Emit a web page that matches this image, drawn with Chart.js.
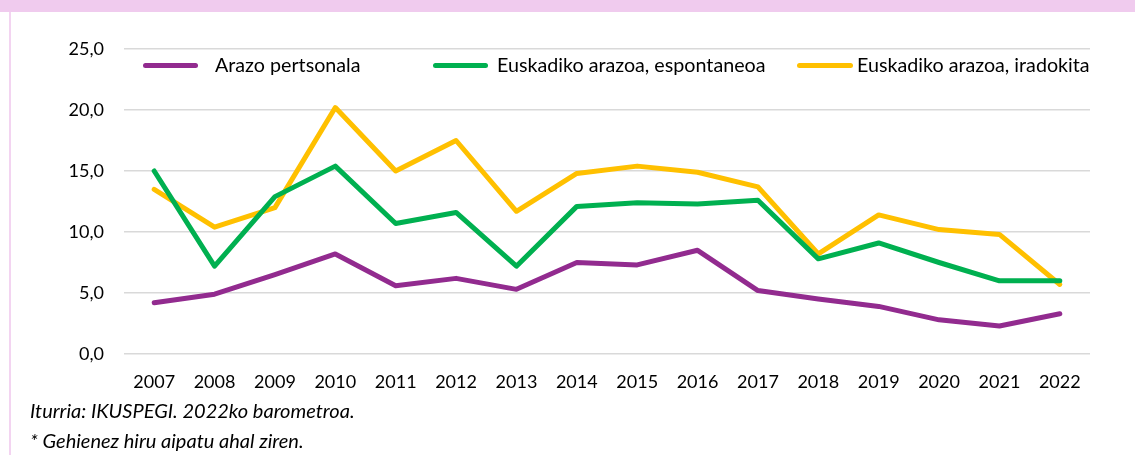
<!DOCTYPE html>
<html>
<head>
<meta charset="utf-8">
<script src="https://cdn.jsdelivr.net/npm/chart.js@4.4.1/dist/chart.umd.min.js"></script>
<style>
  html, body { margin: 0; padding: 0; background: #ffffff; }
  #wrap { position: relative; width: 1135px; height: 455px; overflow: hidden; background: #fff; font-family: Lato, "Open Sans", sans-serif; }
  #band { position: absolute; left: 0; top: 0; width: 1135px; height: 12px; background: #F0CBEE; }
  #lborder { position: absolute; left: 9px; top: 12px; width: 2px; height: 443px; background: #F3D4F1; }
  canvas { position: absolute; left: 0; top: 0; }
  .lg-line { position: absolute; height: 5px; border-radius: 3px; }
  .lg-text { position: absolute; font-size: 19.7px; color: #000; line-height: 22px; white-space: nowrap; }
  .note { position: absolute; left: 30px; font-size: 20px; font-style: italic; color: #000; white-space: nowrap; line-height: 22px; }
</style>
</head>
<body>
<div id="wrap">
  <div id="band"></div>
  <div id="lborder"></div>
  <canvas id="c" width="1135" height="455"></canvas>
  <div id="legend"></div>
  <div class="note" style="top:399px;">Iturria: IKUSPEGI. 2022ko barometroa.</div>
  <div class="note" style="top:429px;">* Gehienez hiru aipatu ahal ziren.</div>
</div>
<script>
const years = ["2007","2008","2009","2010","2011","2012","2013","2014","2015","2016","2017","2018","2019","2020","2021","2022"];
const arazoPertsonala = [4.2, 4.9, 6.5, 8.2, 5.6, 6.2, 5.3, 7.5, 7.3, 8.5, 5.2, 4.5, 3.9, 2.8, 2.3, 3.3];
const euskadikoEspontaneoa = [15.0, 7.2, 12.9, 15.4, 10.7, 11.6, 7.2, 12.1, 12.4, 12.3, 12.6, 7.8, 9.1, 7.5, 6.0, 6.0];
const euskadikoIradokita = [13.5, 10.4, 12.0, 20.2, 15.0, 17.5, 11.7, 14.8, 15.4, 14.9, 13.7, 8.2, 11.4, 10.2, 9.8, 5.7];
const seriesNames = ["Arazo pertsonala", "Euskadiko arazoa, espontaneoa", "Euskadiko arazoa, iradokita"];
const yTicks = [0, 5, 10, 15, 20, 25];

const colors = ["#922B8F", "#00B050", "#FFC000"];

// HTML legend
const legendPos = [
  { lineL: 143, lineW: 55, textL: 215 },
  { lineL: 433, lineW: 55, textL: 497 },
  { lineL: 797, lineW: 56, textL: 857 }
];
const lg = document.getElementById('legend');
seriesNames.forEach((n, i) => {
  const l = document.createElement('div');
  l.className = 'lg-line';
  l.style.left = legendPos[i].lineL + 'px';
  l.style.width = legendPos[i].lineW + 'px';
  l.style.top = '63px';
  l.style.background = colors[i];
  lg.appendChild(l);
  const t = document.createElement('div');
  t.className = 'lg-text';
  t.style.left = legendPos[i].textL + 'px';
  t.style.top = '54px';
  t.textContent = n;
  lg.appendChild(t);
});

const mk = (label, data, color) => ({
  label, data,
  borderColor: color, backgroundColor: color,
  borderWidth: 5, pointRadius: 0, tension: 0,
  borderCapStyle: 'round', borderJoinStyle: 'round', fill: false
});

new Chart(document.getElementById('c'), {
  type: 'line',
  data: {
    labels: years,
    datasets: [
      mk(seriesNames[0], arazoPertsonala, colors[0]),
      mk(seriesNames[1], euskadikoEspontaneoa, colors[1]),
      mk(seriesNames[2], euskadikoIradokita, colors[2])
    ]
  },
  options: {
    responsive: false,
    animation: false,
    devicePixelRatio: 1,
    layout: { padding: { top: 49, right: 45, bottom: 0, left: 0 } },
    plugins: { legend: { display: false }, tooltip: { enabled: false } },
    scales: {
      x: {
        offset: true,
        grid: { display: false, drawTicks: false },
        border: { display: false },
        ticks: { color: '#000', font: { family: 'Lato', size: 18 }, padding: 17, maxRotation: 0, autoSkip: false },
        afterFit: s => { s.height = 101; }
      },
      y: {
        min: 0, max: 25,
        afterBuildTicks: s => { s.ticks = yTicks.map(v => ({ value: v })); },
        grid: { color: '#D9D9D9', lineWidth: 1.5, drawTicks: false },
        border: { display: false },
        ticks: {
          color: '#000', font: { family: 'Lato', size: 18 }, padding: 20,
          callback: v => v.toFixed(1).replace('.', ',')
        },
        afterFit: s => { s.width = 124; }
      }
    }
  }
});
</script>
</body>
</html>
